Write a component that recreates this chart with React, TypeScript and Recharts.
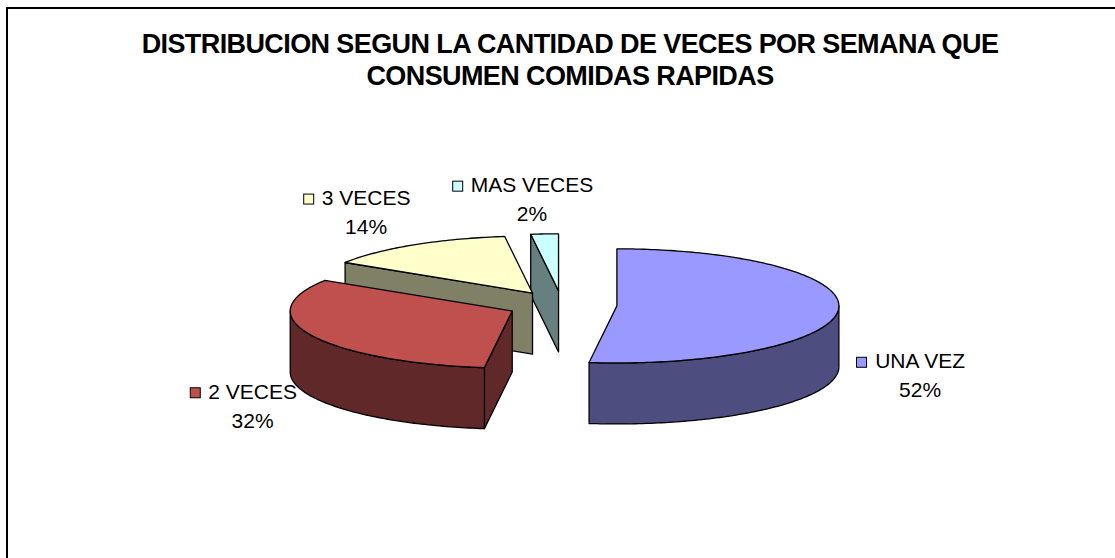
import React from "react";
import { PieChart, Pie, Cell } from "recharts";

// share of respondents by how many times a week they eat fast food
// (drawn counter-clockwise from 12 o'clock so the back slices are painted first)
const categories = ["MAS VECES", "3 VECES", "2 VECES", "UNA VEZ"];
const shares = [2, 14, 32, 52];

const titleLines = [
  "DISTRIBUCION SEGUN LA CANTIDAD DE VECES POR SEMANA QUE",
  "CONSUMEN COMIDAS RAPIDAS",
];

const topColors = ["#CCFFFF", "#FFFFCC", "#C0504D", "#9999FF"];
const wallColors = ["#668080", "#808066", "#602828", "#4D4D80"];

const W = 1115;
const H = 558;
const CX = 562;
const CY = 305;
const RADIUS = 222;
const TILT = 0.257; // vertical squash of the pie ellipse
const DEPTH = 61; // thickness of the pie
const EXPLODE = 55;
const FONT = "Arial, 'Liberation Sans', sans-serif";
const LABEL_SIZE = 21;

const rows = categories.map((name, i) => ({
  name,
  value: shares[i],
  top: topColors[i],
  wall: wallColors[i],
}));

const rad = (d: number) => (d * Math.PI) / 180;

function rim(x: number, y: number, r: number, deg: number, dy = 0) {
  return [x + r * Math.cos(rad(deg)), y - r * TILT * Math.sin(rad(deg)) + dy];
}

function arcPoints(x: number, y: number, r: number, from: number, to: number, dy = 0) {
  const n = Math.max(2, Math.ceil(Math.abs(to - from)) + 1);
  const pts: number[][] = [];
  for (let i = 0; i < n; i++) {
    pts.push(rim(x, y, r, from + ((to - from) * i) / (n - 1), dy));
  }
  return pts;
}

const toPath = (pts: number[][]) =>
  "M" + pts.map((p) => `${p[0].toFixed(2)},${p[1].toFixed(2)}`).join("L") + "Z";

function Slice3D(props: any) {
  const { cx, cy, outerRadius, startAngle, endAngle, midAngle } = props;
  const row = props.payload ?? props;
  const lo = Math.min(startAngle, endAngle);
  const hi = Math.max(startAngle, endAngle);
  // exploded apex
  const ox = cx + EXPLODE * Math.cos(rad(midAngle));
  const oy = cy - EXPLODE * TILT * Math.sin(rad(midAngle));
  const r = outerRadius;

  const walls: string[] = [];

  // radial walls facing the viewer
  const edges = [
    { a: lo, normal: lo - 90 },
    { a: hi, normal: hi + 90 },
  ];
  edges.forEach(({ a, normal }) => {
    if (Math.sin(rad(normal)) < -1e-6) {
      const p = rim(ox, oy, r, a);
      walls.push(toPath([[ox, oy], p, [p[0], p[1] + DEPTH], [ox, oy + DEPTH]]));
    }
  });

  // front part of the rounded outer wall
  [-360, 0, 360].forEach((shift) => {
    const a1 = Math.max(lo, 180 + shift);
    const a2 = Math.min(hi, 360 + shift);
    if (a2 > a1) {
      const upper = arcPoints(ox, oy, r, a1, a2);
      const lower = arcPoints(ox, oy, r, a2, a1, DEPTH);
      walls.push(toPath([...upper, ...lower]));
    }
  });

  const top = toPath([[ox, oy], ...arcPoints(ox, oy, r, lo, hi)]);

  return (
    <g>
      {walls.map((d, i) => (
        <path key={i} d={d} fill={row.wall} stroke="#000" strokeWidth={1.3} strokeLinejoin="round" />
      ))}
      <path d={top} fill={row.top} stroke="#000" strokeWidth={1.3} strokeLinejoin="round" />
    </g>
  );
}

let measureCtx: CanvasRenderingContext2D | null = null;
function textWidth(s: string) {
  if (!measureCtx) {
    measureCtx = document.createElement("canvas").getContext("2d");
  }
  if (!measureCtx) return s.length * LABEL_SIZE * 0.62;
  measureCtx.font = `${LABEL_SIZE}px ${FONT}`;
  return measureCtx.measureText(s).width;
}

function renderLabel(props: any) {
  const { cx, cy, midAngle, outerRadius, percent, name } = props;
  const row = props.payload ?? props;
  const s = Math.sin(rad(midAngle));
  const c = Math.cos(rad(midAngle));
  // labels sit outside the rim; front ones drop below the pie's thickness
  const lx = cx + (s > 0 ? -8 : 8) + outerRadius * 1.58 * c;
  const ly = cy - 22 + (s < 0 ? 87 : 0) - 84 * s;
  const w = textWidth(name);
  const base1 = ly - 7;
  const base2 = ly + 22;
  return (
    <g key={name}>
      <rect
        x={lx - w / 2 - 18}
        y={base1 - 11}
        width={10}
        height={10}
        fill={row.top}
        stroke="#000"
        strokeWidth={1}
      />
      <text x={lx} y={base1} textAnchor="middle" fontFamily={FONT} fontSize={LABEL_SIZE} fill="#000">
        {name}
      </text>
      <text x={lx} y={base2} textAnchor="middle" fontFamily={FONT} fontSize={LABEL_SIZE} fill="#000">
        {Math.round(percent * 100)}%
      </text>
    </g>
  );
}

export default function App() {
  return (
    <div style={{ position: "absolute", left: 0, top: 0, width: W, height: H, background: "#fff" }}>
      <svg width={W} height={H} style={{ position: "absolute", left: 0, top: 0 }}>
        <path d={`M7,${H} V8 H${W}`} fill="none" stroke="#000" strokeWidth={2} />
        {titleLines.map((line, i) => (
          <text
            key={line}
            x={570}
            y={53 + i * 32}
            textAnchor="middle"
            fontFamily={FONT}
            fontWeight="bold"
            fontSize={27}
            letterSpacing={-0.6}
            fill="#000"
          >
            {line}
          </text>
        ))}
      </svg>
      <div style={{ position: "absolute", left: 0, top: 0 }}>
        <PieChart width={W} height={H} margin={{ top: 0, right: 0, bottom: 0, left: 0 }}>
          <Pie
            data={rows}
            dataKey="value"
            nameKey="name"
            cx={CX}
            cy={CY}
            outerRadius={RADIUS}
            startAngle={90}
            endAngle={450}
            stroke="none"
            shape={Slice3D}
            label={renderLabel}
            labelLine={false}
            isAnimationActive={false}
          >
            {rows.map((r) => (
              <Cell key={r.name} fill={r.top} />
            ))}
          </Pie>
        </PieChart>
      </div>
    </div>
  );
}
